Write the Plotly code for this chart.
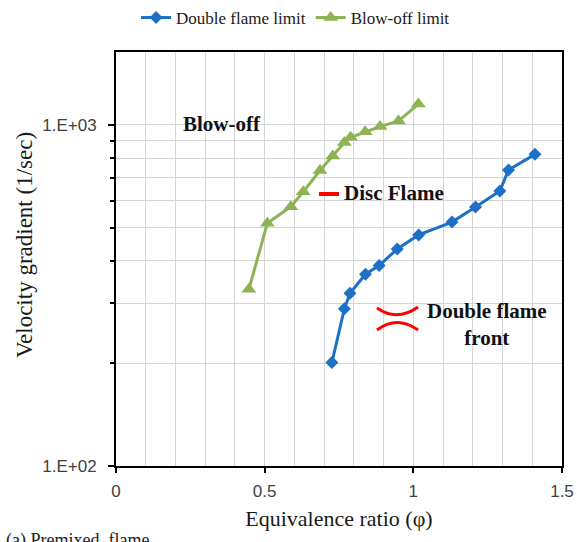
import plotly.graph_objects as go

# Data
double_phi = [0.726, 0.768, 0.787, 0.839, 0.885, 0.946, 1.018, 1.130, 1.209, 1.291, 1.320, 1.409]
double_vg = [201, 289, 321, 365, 387, 433, 476, 519, 575, 640, 738, 820]

blow_phi = [0.447, 0.509, 0.588, 0.630, 0.686, 0.729, 0.768, 0.789, 0.838, 0.888, 0.950, 1.017]
blow_vg = [330, 515, 576, 637, 735, 811, 888, 920, 956, 989, 1027, 1152]

x_ticks = [0, 0.5, 1, 1.5]
x_tick_labels = ["0", "0.5", "1", "1.5"]
y_ticks = [100, 1000]
y_tick_labels = ["1.E+02", "1.E+03"]
y_minor = [200, 300, 400, 500, 600, 700, 800, 900]

W, H = 577, 542
L, R, T, B = 116, 15, 52, 76
PW, PH = W - L - R, H - T - B


def px(x):
    return (x - L) / PW


def py(y):
    return (H - B - y) / PH


SERIF = "Liberation Serif"
SANS = "Liberation Sans"

fig = go.Figure()
fig.add_trace(go.Scatter(
    x=double_phi, y=double_vg, mode="lines+markers", name="Double flame limit",
    line=dict(color="#1C70C6", width=3),
    marker=dict(symbol="diamond", size=10, color="#1C70C6"),
))
fig.add_trace(go.Scatter(
    x=blow_phi, y=blow_vg, mode="lines+markers", name="Blow-off limit",
    line=dict(color="#8DB453", width=3),
    marker=dict(symbol="triangle-up", size=13, color="#8DB453"),
))

fig.update_layout(
    width=W, height=H,
    margin=dict(l=L, r=R, t=T, b=B, autoexpand=False),
    plot_bgcolor="white", paper_bgcolor="white",
    showlegend=True,
    legend=dict(orientation="h", x=0.045, xanchor="left", y=py(18), yanchor="middle",
                font=dict(family=SERIF, size=17, color="#1a1a1a"),
                bgcolor="rgba(0,0,0,0)", itemwidth=30, tracegroupgap=0),
    xaxis=dict(
        range=[0, 1.5], tickmode="array", tickvals=x_ticks, ticktext=x_tick_labels,
        showgrid=True, gridcolor="#d4d4d4", gridwidth=1,
        minor=dict(dtick=0.1, tick0=0, showgrid=True, gridcolor="#d4d4d4", gridwidth=1),
        showline=True, linecolor="black", linewidth=2, mirror=True,
        ticks="outside", ticklen=5, tickcolor="black", tickwidth=2,
        tickfont=dict(family=SANS, size=17, color="#404040"),
        ticklabelstandoff=4,
        zeroline=False,
        title=dict(text="Equivalence ratio (\u03c6)", font=dict(family=SERIF, size=22, color="#1a1a1a"),
                   standoff=10),
    ),
    yaxis=dict(
        type="log", range=[2, 3.214], tickmode="array", tickvals=y_ticks, ticktext=y_tick_labels,
        showgrid=True, gridcolor="#d4d4d4", gridwidth=1,
        minor=dict(tickmode="array", tickvals=y_minor, showgrid=True, gridcolor="#d4d4d4",
                   gridwidth=1, ticks="outside", ticklen=4, tickcolor="black", tickwidth=2),
        showline=True, linecolor="black", linewidth=2, mirror=True,
        ticks="outside", ticklen=6, tickcolor="black", tickwidth=2,
        tickfont=dict(family=SANS, size=17, color="#404040"),
        ticklabelstandoff=8,
        zeroline=False,
    ),
)

ann_font = dict(family=SERIF, size=21, color="#111111")
annotations = [
    dict(x=px(181), y=py(124), xref="paper", yref="paper", text="<b>Blow-off</b>",
         xanchor="left", yanchor="middle", showarrow=False, font=ann_font),
    dict(x=px(342), y=py(193), xref="paper", yref="paper", text="<b>Disc Flame</b>",
         xanchor="left", yanchor="middle", showarrow=False, font=ann_font),
    dict(x=px(487), y=py(324), xref="paper", yref="paper", text="<b>Double flame<br>front</b>",
         xanchor="center", yanchor="middle", align="center", showarrow=False, font=ann_font),
    dict(x=px(25), y=py(245), xref="paper", yref="paper", text="Velocity gradient (1/sec)",
         textangle=-90, xanchor="center", yanchor="middle", showarrow=False,
         font=dict(family=SERIF, size=23, color="#1a1a1a")),
    dict(x=px(4), y=py(528), xref="paper", yref="paper", text="(a) Premixed  flame",
         xanchor="left", yanchor="top", showarrow=False,
         font=dict(family=SERIF, size=18, color="#1a1a1a")),
]
fig.update_layout(annotations=annotations)


def pt(x, y):
    return f"{px(x):.5f},{py(y):.5f}"


shapes = [
    dict(type="line", xref="paper", yref="paper", x0=px(319), x1=px(339), y0=py(194), y1=py(194),
         line=dict(color="#ff0000", width=4)),
    dict(type="path", xref="paper", yref="paper",
         path=f"M {pt(377, 308)} Q {pt(397, 322)} {pt(418, 307)}",
         line=dict(color="#ff0000", width=3)),
    dict(type="path", xref="paper", yref="paper",
         path=f"M {pt(377, 330)} Q {pt(397, 315)} {pt(418, 330)}",
         line=dict(color="#ff0000", width=3)),
]
fig.update_layout(shapes=shapes)

fig.write_html("out.html", config={"displayModeBar": False},
               post_script="document.body.style.margin='0';document.body.style.overflow='hidden';")
